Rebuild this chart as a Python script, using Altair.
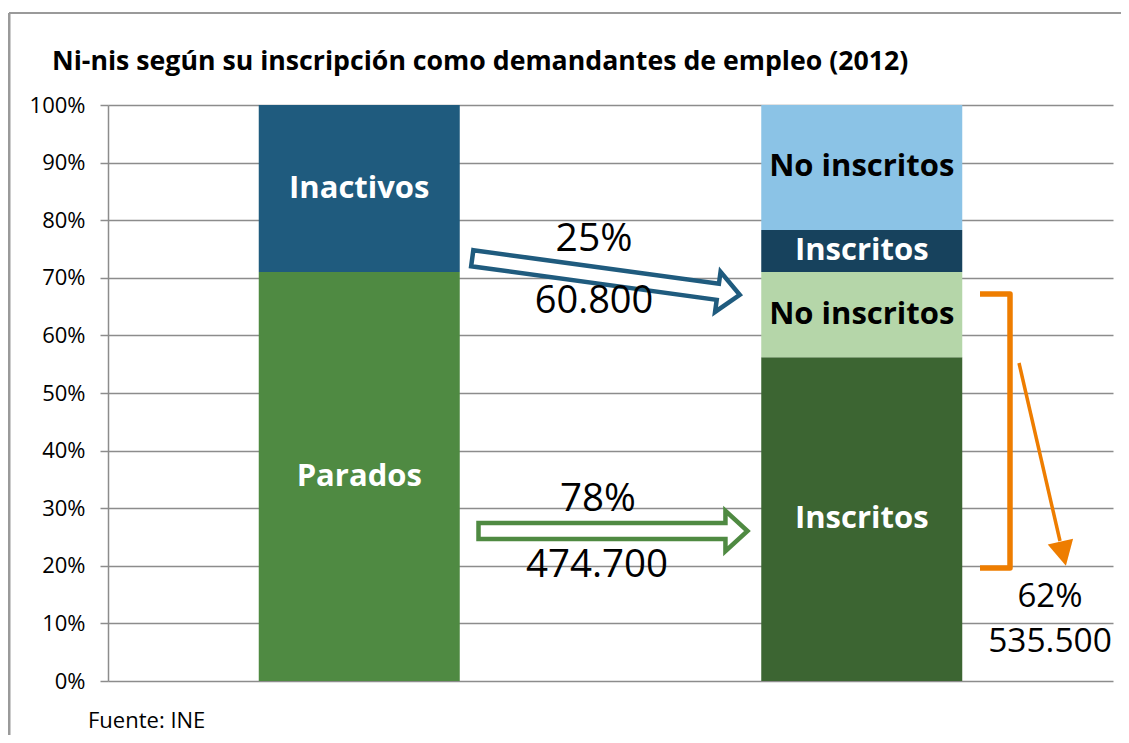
import altair as alt
import pandas as pd

FONT = "Open Sans"

# ---- data ----
bars = ["Total", "Total", "Desglose", "Desglose", "Desglose", "Desglose"]
keys = ["parados", "inactivos", "par_ins", "par_noins", "ina_ins", "ina_noins"]
labels = ["Parados", "Inactivos", "Inscritos", "No inscritos", "Inscritos", "No inscritos"]
values = [71.0, 29.0, 56.2, 14.8, 7.3, 21.7]
seg_colors = ["#4F8A42", "#1F5B7E", "#3C6532", "#B5D6A9", "#17425D", "#8BC3E6"]
text_colors = ["white", "white", "white", "black", "white", "black"]
categories = ["Total", "Desglose"]
y_ticks = [0, 10, 20, 30, 40, 50, 60, 70, 80, 90, 100]

title_text = "Ni-nis según su inscripción como demandantes de empleo (2012)"
source_text = "Fuente: INE"
flow_inactivos = ["25%", "60.800"]
flow_parados = ["78%", "474.700"]
flow_total = ["62%", "535.500"]

df = pd.DataFrame({"bar": bars, "key": keys, "label": labels, "value": values,
                   "tcolor": text_colors})
df["end"] = df.groupby("bar")["value"].cumsum()
df["start"] = df["end"] - df["value"]
df["mid"] = (df["start"] + df["end"]) / 2

xscale = alt.Scale(domain=categories, paddingInner=0.6, paddingOuter=0.3)
yscale = alt.Scale(domain=[0, 100])

base = alt.Chart(df)
bars_layer = base.mark_bar().encode(
    x=alt.X("bar:N", scale=xscale, axis=None, sort=categories),
    y=alt.Y("start:Q", scale=yscale,
            axis=alt.Axis(values=y_ticks, labelExpr="datum.value + '%'", title=None,
                          grid=True, gridColor="#8C8C8C", gridWidth=1.5,
                          domainColor="#8C8C8C", domainWidth=1.5,
                          tickColor="#8C8C8C", tickWidth=1.5, tickSize=8,
                          labelFont=FONT, labelFontSize=22, labelColor="black",
                          labelPadding=15)),
    y2="end:Q",
    color=alt.Color("key:N", scale=alt.Scale(domain=keys, range=seg_colors), legend=None),
)
labels_layer = base.mark_text(font=FONT, fontSize=31, fontWeight="bold",
                              baseline="middle").encode(
    x=alt.X("bar:N", scale=xscale, sort=categories),
    y=alt.Y("mid:Q", scale=yscale),
    text="label:N",
    color=alt.Color("tcolor:N", scale=None),
)

one = pd.DataFrame({"k": [0]})


def note(text, x, y, size, weight="normal", align="center", baseline="middle"):
    return alt.Chart(one).mark_text(text=text, font=FONT, fontSize=size, fontWeight=weight,
                                    color="black", align=align, baseline=baseline).encode(
        x=alt.value(x), y=alt.value(y))


ARROW = "M -1,-0.06 L 0.836,-0.06 L 0.836,-0.15 L 1,0 L 0.836,0.15 L 0.836,0.06 L -1,0.06 Z"
TRI = "M -1,-0.9 L 1,-0.9 L 0,1 Z"


def block_arrow(x, y, length, angle, color):
    return alt.Chart(one).mark_point(shape=ARROW, size=length * length, angle=angle,
                                     filled=True, fill="white", stroke=color,
                                     strokeWidth=4.5, opacity=1, fillOpacity=1,
                                     strokeJoin="miter").encode(
        x=alt.value(x), y=alt.value(y))


blue_arrow = block_arrow(498, 171.5, 270, 7.8, "#1F5B7E")
green_arrow = block_arrow(505, 426, 269, 0, "#4F8A42")

bracket_df = pd.DataFrame({"px": [872, 902, 902, 872], "py": [189, 189, 463, 463],
                           "o": [0, 1, 2, 3]})
bracket = alt.Chart(bracket_df).mark_line(color="#EE7D00", strokeWidth=5.5,
                                          strokeJoin="round", strokeCap="butt").encode(
    x=alt.X("px:Q", scale=None), y=alt.Y("py:Q", scale=None), order="o:Q")

orange_line = alt.Chart(one).mark_rule(color="#EE7D00", strokeWidth=3.5).encode(
    x=alt.value(911), y=alt.value(258), x2=alt.value(952), y2=alt.value(436))
orange_head = alt.Chart(one).mark_point(shape=TRI, size=676, angle=347.2, filled=True,
                                        fill="#EE7D00", stroke="#EE7D00", strokeWidth=0,
                                        opacity=1).encode(
    x=alt.value(955), y=alt.value(448))

frame_left = alt.Chart(one).mark_rule(color="#9A9A9A", strokeWidth=3).encode(
    x=alt.value(-99), y=alt.value(-92), y2=alt.value(630))
frame_top = alt.Chart(one).mark_rule(color="#9A9A9A", strokeWidth=2).encode(
    x=alt.value(-99), x2=alt.value(1013), y=alt.value(-92))

layers = [
    bars_layer, labels_layer,
    blue_arrow, green_arrow, bracket, orange_line, orange_head,
    note(flow_inactivos[0], 486, 134, 39), note(flow_inactivos[1], 486, 197, 38),
    note(flow_parados[0], 490, 394, 38.5), note(flow_parados[1], 489, 460, 38.5),
    note(flow_total[0], 942, 492, 33), note(flow_total[1], 942, 537, 33.5),
    note(title_text, -56, -35, 26.7, weight="bold", align="left", baseline="alphabetic"),
    note(source_text, -20, 623, 22, align="left", baseline="alphabetic"),
    frame_left, frame_top,
]

chart = alt.layer(*layers).properties(
    width=1005, height=576,
    autosize=alt.AutoSizeParams(type="none"),
    padding={"left": 100, "top": 97, "right": 8, "bottom": 54},
).configure_view(stroke=None)

chart.save("out.html", embed_options={"renderer": "svg", "actions": False})
